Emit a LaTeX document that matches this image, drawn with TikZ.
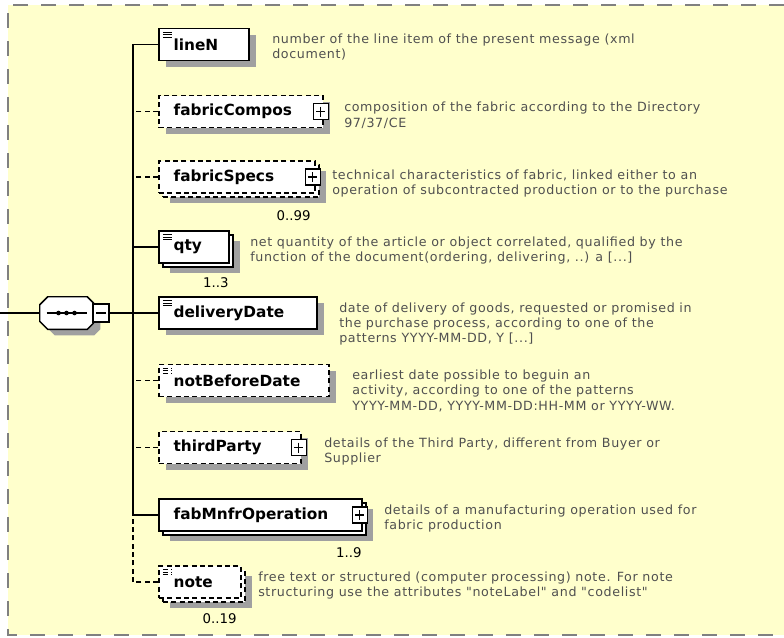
\documentclass[tikz,border=0pt]{standalone}
\usepackage{fontspec}
\setmainfont{DejaVu Sans}
\newfontfamily\descfont[LetterSpace=5]{DejaVu Sans}
\usetikzlibrary{positioning, shadows}

\definecolor{panelyellow}{RGB}{255,255,204}
\definecolor{framegray}{RGB}{128,128,128}
\definecolor{shadowgray}{RGB}{160,160,160}
\definecolor{desctext}{RGB}{80,80,80}

\tikzset{
  elem/.style={rectangle, draw=black, line width=1.4pt, fill=white, anchor=west,
    minimum height=24pt, inner xsep=11pt, inner ysep=0pt, align=left,
    font=\fontsize{11.5}{13}\selectfont\bfseries},
  optional/.style={dash pattern=on 3.75pt off 2.5pt},
  boxshadow/.style={general shadow={fill=shadowgray, shadow xshift=5.25pt, shadow yshift=-4.5pt}},
  stacked/.style={general shadow={fill=shadowgray, shadow xshift=8.25pt, shadow yshift=-7.5pt},
    general shadow={fill=white, draw=black, shadow xshift=3pt, shadow yshift=-3pt}},
  simpletype/.style={path picture={
    \foreach \dy in {3.5,6,8.5}
      \draw[line width=0.75pt] ([shift={(4,\dy)}]path picture bounding box.north west) -- ++(9,0);}},
  plusbox/.style={rectangle, draw=black, line width=0.8pt, fill=white, inner sep=0pt,
    minimum width=11.25pt, minimum height=12pt,
    path picture={\draw[line width=0.8pt]
      ([shift={(-4.5,0)}]path picture bounding box.center) -- ([shift={(4.5,0)}]path picture bounding box.center)
      ([shift={(0,-5)}]path picture bounding box.center) -- ([shift={(0,5)}]path picture bounding box.center);}},
  desc/.style={anchor=north west, inner sep=0pt, align=left, text=desctext,
    font=\descfont\fontsize{9.5}{11.6}\selectfont},
  mult/.style={anchor=east, inner sep=0pt, font=\fontsize{10}{12}\selectfont},
  conn/.style={line width=1.2pt},
}

\begin{document}
\begin{tikzpicture}[x=0.75pt,y=-0.75pt]
\useasboundingbox (0,0) rectangle (784,637);
% panel
\fill[white] (0,0) rectangle (784,637);
\fill[panelyellow] (8,5) rectangle (784,635);
\draw[framegray, line width=1.8pt, dash pattern=on 11.25pt off 9.75pt] (784,5) -- (8,5) -- (8,635) -- (784,635);

% sequence compositor
\node[rectangle, minimum width=39.75pt, minimum height=24pt, inner sep=0pt] (seq) at (66.5,313) {};
\draw[line width=1.1pt, fill=white, boxshadow]
  ([shift={(8,0)}]seq.north west) -- ([shift={(-6,0)}]seq.north east) -- ([shift={(0,6)}]seq.north east)
  -- ([shift={(0,-6)}]seq.south east) -- ([shift={(-6,0)}]seq.south east) -- ([shift={(8,0)}]seq.south west)
  -- ([shift={(0,-8)}]seq.south west) -- ([shift={(0,8)}]seq.north west) -- cycle;
\draw[line width=1.1pt] ([shift={(-20,0)}]seq.center) -- ([shift={(20,0)}]seq.center);
\foreach \dx in {-8,0,8}
    \fill ([shift={(\dx,0)}]seq.center) circle (2.3);
\node[rectangle, draw=black, line width=0.8pt, fill=white, inner sep=0pt,
  minimum width=12pt, minimum height=13.5pt,
  path picture={\draw[line width=0.8pt] ([shift={(-5,0)}]path picture bounding box.center)
    -- ([shift={(5,0)}]path picture bounding box.center);}] (seqminus) at (101,313) {};

% child elements
\node[elem, simpletype, boxshadow, text width=45.5pt] (lineN) at (158,44.5) {lineN};
\node[elem, optional, boxshadow, text width=101pt] (fabricCompos) at (158,111.5) {fabricCompos};
\node[elem, optional, stacked, text width=95pt] (fabricSpecs) at (158,177) {fabricSpecs};
\node[elem, simpletype, stacked, text width=30.5pt] (qty) at (158,247) {qty};
\node[elem, simpletype, boxshadow, text width=96.5pt] (deliveryDate) at (158,313) {deliveryDate};
\node[elem, optional, simpletype, boxshadow, text width=105.5pt] (notBeforeDate) at (158,380.5) {notBeforeDate};
\node[elem, optional, boxshadow, text width=84.5pt] (thirdParty) at (158,447.5) {thirdParty};
\node[elem, stacked, text width=130.25pt] (fabMnfrOperation) at (158,515) {fabMnfrOperation};
\node[elem, optional, simpletype, stacked, text width=39.5pt] (note) at (158,582) {note};

% expand buttons
\foreach \n in {fabricCompos,fabricSpecs,thirdParty,fabMnfrOperation}
    \node[plusbox] (\n plus) at ([xshift=-2.25pt]\n.east) {};

% occurrences
\node[mult] (fabricSpecsmult) at ([shift={(-5,22)}]fabricSpecs.south east) {0..99};
\node[mult] (qtymult) at ([shift={(-1,19)}]qty.south east) {1..3};
\node[mult] (fabMnfrOperationmult) at ([shift={(-1,21)}]fabMnfrOperation.south east) {1..9};
\node[mult] (notemult) at ([shift={(-5,20)}]note.south east) {0..19};

% annotations
\node[desc] (lineNdesc) at (272,33.4) {number of the line item of the present message (xml\\document)};
\node[desc] (fabricComposdesc) at (344,102.1) {composition of the fabric according to the Directory\\97/37/CE};
\node[desc] (fabricSpecsdesc) at (332,169.4) {technical characteristics of fabric, linked either to an\\operation of subcontracted production or to the purchase};
\node[desc] (qtydesc) at (250,236.4) {net quantity of the article or object correlated, qualified by the\\function of the document(ordering, delivering, ..) a [...]};
\node[desc] (deliveryDatedesc) at (339,302.1) {date of delivery of goods, requested or promised in\\the purchase process, according to one of the\\patterns YYYY-MM-DD, Y [...]};
\node[desc] (notBeforeDatedesc) at (352,369.4) {earliest date possible to beguin an\\activity, according to one of the patterns\\YYYY-MM-DD, YYYY-MM-DD:HH-MM or YYYY-WW.};
\node[desc] (thirdPartydesc) at (324,437.1) {details of the Third Party, different from Buyer or\\Supplier};
\node[desc] (fabMnfrOperationdesc) at (384,504.4) {details of a manufacturing operation used for\\fabric production};
\node[desc] (notedesc) at (258,571.4) {free text or structured (computer processing) note. For note\\structuring use the attributes "noteLabel" and "codelist"};

% connectors
\coordinate (entry) at (0,313);
\coordinate (spine) at (133,313);
\draw[conn] (entry) -- (seq.west);
\draw[conn] (seqminus.east) -- (deliveryDate.west);
\foreach \n in {lineN,qty,fabMnfrOperation}
    \draw[conn] (\n.west) -| (spine);
\foreach \n in {fabricCompos,fabricSpecs,notBeforeDate,thirdParty,note}
    \draw[conn, optional] (\n.west) -| (spine);
\end{tikzpicture}
\end{document}
